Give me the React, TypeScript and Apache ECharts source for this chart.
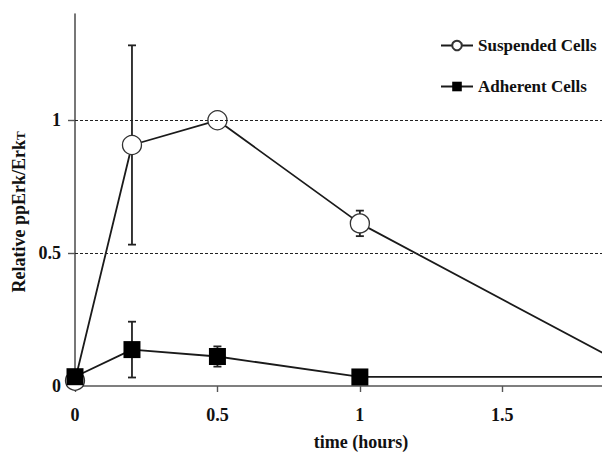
import React, { useEffect, useRef } from "react";
import * as echarts from "echarts";

const times = [0, 0.2, 0.5, 1, 2];
const suspended = [0.02, 0.907, 1.0, 0.612, 0.04];
const suspendedErr = [0, 0.375, 0, 0.048, 0];
const adherent = [0.035, 0.137, 0.111, 0.034, 0.034];
const adherentErr = [0, 0.105, 0.038, 0, 0];
const xTicks = [0, 0.5, 1, 1.5];
const yTicks = [0, 0.5, 1];
const gridLines = [0.5, 1];

const FONT = "'Liberation Serif', 'Times New Roman', serif";
const INK = "#111";

function errData(vals: number[], errs: number[]) {
  const out: number[][] = [];
  times.forEach((t, i) => {
    if (errs[i] > 0) out.push([t, vals[i] - errs[i], vals[i] + errs[i]]);
  });
  return out;
}

function renderErr(params: any, api: any) {
  const x = api.value(0);
  const lo = api.coord([x, api.value(1)]);
  const hi = api.coord([x, api.value(2)]);
  const w = 4;
  const style = { stroke: "#222", lineWidth: 1.8 };
  return {
    type: "group",
    children: [
      { type: "line", shape: { x1: lo[0], y1: lo[1], x2: hi[0], y2: hi[1] }, style },
      { type: "line", shape: { x1: hi[0] - w, y1: hi[1], x2: hi[0] + w, y2: hi[1] }, style },
      { type: "line", shape: { x1: lo[0] - w, y1: lo[1], x2: lo[0] + w, y2: lo[1] }, style },
    ],
  };
}

export default function App() {
  const ref = useRef<HTMLDivElement>(null);
  useEffect(() => {
    document.body.style.margin = "0";
    const chart = echarts.init(ref.current!, null, { renderer: "svg" });
    chart.setOption({
      animation: false,
      backgroundColor: "#ffffff",
      grid: { left: 75, top: 14, right: 0, bottom: 64 },
      legend: {
        orient: "vertical",
        left: 440,
        top: 37,
        padding: 0,
        itemWidth: 32,
        itemHeight: 12,
        itemGap: 24,
        textStyle: { fontFamily: FONT, fontWeight: "bold", fontSize: 17, color: INK },
        data: ["Suspended Cells", "Adherent Cells"],
      },
      xAxis: {
        type: "value",
        min: 0,
        max: 1.85,
        interval: 0.5,
        name: "time (hours)",
        nameLocation: "middle",
        nameGap: 47,
        nameTextStyle: {
          fontFamily: FONT,
          fontWeight: "bold",
          fontSize: 18,
          color: INK,
          padding: [0, 0, 0, 45],
          verticalAlign: "top",
        },
        axisLine: { lineStyle: { color: "#555", width: 1.6 } },
        axisTick: { length: 6, customValues: xTicks, lineStyle: { color: "#555", width: 1.4 } },
        axisLabel: {
          customValues: xTicks,
          margin: 20,
          fontFamily: FONT,
          fontWeight: "bold",
          fontSize: 18,
          color: INK,
        },
        splitLine: { show: false },
      },
      yAxis: {
        type: "value",
        min: 0,
        max: 1.4,
        interval: 0.5,
        name: "Relative ppErk/Erk{s|T}",
        nameLocation: "middle",
        nameGap: 44,
        nameRotate: 90,
        nameTextStyle: {
          fontFamily: FONT,
          fontWeight: "bold",
          fontSize: 18,
          color: INK,
          padding: [0, 24, 0, 0],
          rich: {
            s: { fontFamily: FONT, fontWeight: "bold", fontSize: 13, color: INK, padding: [4, 0, 0, 0] },
          },
        },
        axisLine: { show: true, lineStyle: { color: "#555", width: 1.6 } },
        axisTick: { show: true, length: 7, customValues: yTicks, lineStyle: { color: "#555", width: 1.4 } },
        axisLabel: {
          customValues: yTicks,
          margin: 14,
          fontFamily: FONT,
          fontWeight: "bold",
          fontSize: 18,
          color: INK,
        },
        splitLine: { show: false },
      },
      series: [
        {
          type: "custom",
          name: "errS",
          z: 1,
          renderItem: renderErr,
          data: errData(suspended, suspendedErr),
          silent: true,
        },
        {
          type: "custom",
          name: "errA",
          z: 1,
          renderItem: renderErr,
          data: errData(adherent, adherentErr),
          silent: true,
        },
        {
          type: "line",
          name: "Suspended Cells",
          z: 3,
          data: times.map((t, i) => [t, suspended[i]]),
          symbol: "circle",
          symbolSize: 19,
          itemStyle: { color: "#ffffff", borderColor: "#333", borderWidth: 1.3 },
          lineStyle: { color: "#1a1a1a", width: 1.8 },
          markLine: {
            silent: true,
            symbol: "none",
            label: { show: false },
            lineStyle: { color: "#222", type: [3, 2], width: 1.2 },
            data: gridLines.map((v) => ({ yAxis: v })),
          },
        },
        {
          type: "line",
          name: "Adherent Cells",
          z: 4,
          data: times.map((t, i) => [t, adherent[i]]),
          symbol: "rect",
          symbolSize: 17,
          itemStyle: { color: "#000000", borderColor: "#000", borderWidth: 0 },
          lineStyle: { color: "#1a1a1a", width: 1.8 },
        },
      ],
    });
    return () => chart.dispose();
  }, []);
  return (
    <div
      ref={ref}
      style={{ position: "fixed", left: 0, top: 0, width: 602, height: 456, background: "#fff" }}
    />
  );
}
